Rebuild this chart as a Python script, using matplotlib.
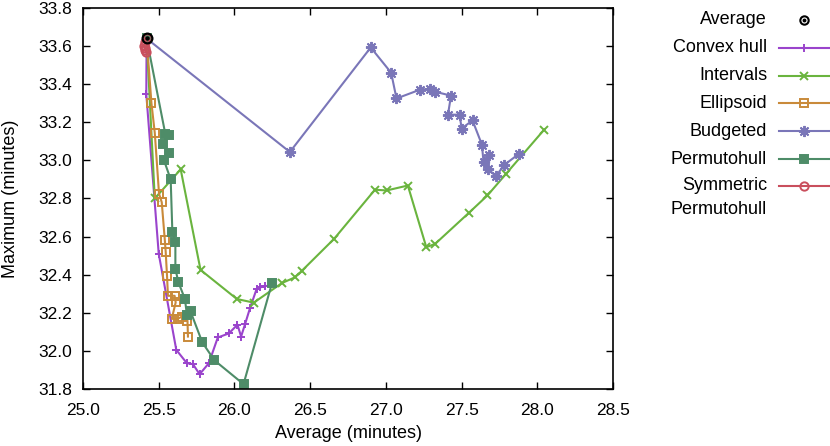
#!/usr/bin/env python3
import matplotlib
matplotlib.use("Agg")
import matplotlib.pyplot as plt
from matplotlib.lines import Line2D

plt.rcParams["font.family"] = ["Liberation Sans", "DejaVu Sans"]

# values (minutes)
average_x = [25.42]
average_y = [33.64]

hull_x = [25.42, 25.418, 25.50, 25.616, 25.686, 25.726, 25.77, 25.831, 25.89,
          25.962, 26.02, 26.044, 26.07, 26.103, 26.147, 26.171, 26.204]
hull_y = [33.64, 33.347, 32.51, 32.005, 31.935, 31.93, 31.877, 31.935, 32.07,
          32.091, 32.137, 32.075, 32.14, 32.225, 32.326, 32.333, 32.342]

intervals_x = [25.42, 25.474, 25.645, 25.776, 26.016, 26.128, 26.314, 26.40,
               26.445, 26.658, 26.928, 27.005, 27.145, 27.267, 27.326, 27.546,
               27.671, 27.794, 28.046]
intervals_y = [33.64, 32.80, 32.953, 32.425, 32.272, 32.253, 32.356, 32.386,
               32.42, 32.588, 32.846, 32.842, 32.868, 32.544, 32.562, 32.723,
               32.816, 32.93, 33.162]

ellipsoid_x = [25.42, 25.452, 25.474, 25.502, 25.52, 25.54, 25.546, 25.555,
               25.561, 25.605, 25.612, 25.586, 25.625, 25.651, 25.69, 25.693]
ellipsoid_y = [33.64, 33.30, 33.144, 32.825, 32.78, 32.584, 32.521, 32.391,
               32.289, 32.289, 32.254, 32.168, 32.168, 32.179, 32.158, 32.075]

budgeted_x = [25.42, 26.366, 26.90, 27.035, 27.07, 27.228, 27.294, 27.327,
              27.43, 27.41, 27.487, 27.50, 27.572, 27.634, 27.645, 27.68,
              27.673, 27.726, 27.783, 27.88]
budgeted_y = [33.64, 33.044, 33.593, 33.46, 33.325, 33.372, 33.375, 33.36,
              33.34, 33.24, 33.24, 33.167, 33.21, 33.083, 32.99, 33.026,
              32.956, 32.917, 32.977, 33.035]

permuto_x = [25.42, 25.544, 25.566, 25.528, 25.568, 25.535, 25.579, 25.59,
             25.61, 25.61, 25.63, 25.673, 25.686, 25.71, 25.788, 25.868,
             26.06, 26.248]
permuto_y = [33.64, 33.137, 33.132, 33.088, 33.038, 33.0, 32.90, 32.626,
             32.574, 32.43, 32.36, 32.272, 32.19, 32.207, 32.044, 31.95,
             31.825, 32.356]

sym_x = [25.42, 25.41, 25.405, 25.41, 25.41, 25.415]
sym_y = [33.64, 33.62, 33.60, 33.59, 33.58, 33.57]

x_ticks = [25.0, 25.5, 26.0, 26.5, 27.0, 27.5, 28.0, 28.5]
y_ticks = [31.8, 32.0, 32.2, 32.4, 32.6, 32.8, 33.0, 33.2, 33.4, 33.6, 33.8]

asterisk = (8, 2, 0)
# label, x, y, colour, marker, face, marker size
series = [
    ("Convex hull", hull_x, hull_y, "#9a44cc", "+", "#9a44cc", 6),
    ("Intervals", intervals_x, intervals_y, "#6ab43e", "x", "#6ab43e", 6),
    ("Ellipsoid", ellipsoid_x, ellipsoid_y, "#c98a3a", "s", "none", 6),
    ("Budgeted", budgeted_x, budgeted_y, "#7a76b8", asterisk, "#7a76b8", 8),
    ("Permutohull", permuto_x, permuto_y, "#4e8c68", "s", "#4e8c68", 6),
    ("Symmetric\nPermutohull", sym_x, sym_y, "#c94f5d", "o", "none", 6),
]


def main() -> None:
    fig = plt.figure(figsize=(8.30, 4.46), dpi=100)
    ax = fig.add_axes([0.100, 0.128, 0.6386, 0.854])

    for label, xs, ys, color, marker, face, size in series:
        ax.plot(xs, ys, color=color, lw=1.5, marker=marker, ms=size,
                mfc=face, mec=color, mew=1.4, clip_on=False)

    ax.plot(average_x, average_y, ls="none", marker="o", ms=7,
            mfc="none", mec="black", mew=1.6, zorder=5)
    ax.plot(average_x, average_y, ls="none", marker="o", ms=2.2,
            mfc="black", mec="black", zorder=5)

    ax.set_xlim(25.0, 28.5)
    ax.set_ylim(31.8, 33.8)
    ax.set_xticks(x_ticks)
    ax.set_yticks(y_ticks)
    ax.set_xticklabels([f"{v:.1f}" for v in x_ticks])
    ax.set_yticklabels([f"{v:.1f}" for v in y_ticks])
    ax.tick_params(direction="in", length=5, width=1, top=True, right=True,
                   labelsize=12.5)
    ax.tick_params(axis="x", pad=10)
    ax.tick_params(axis="y", pad=8)
    for side in ax.spines.values():
        side.set_linewidth(1.2)
    ax.set_xlabel("Average (minutes)", fontsize=13, labelpad=5)
    ax.set_ylabel("Maximum (minutes)", fontsize=13, labelpad=14)

    # gnuplot-style key: right-aligned text, sample to its right
    W, H = 830.0, 446.0
    text_x = 767 / W
    line_x0, line_x1, mark_x = 779 / W, 830 / W, 804 / W
    rows = [20, 48, 76, 103, 131, 159, 186]

    fig.text(text_x, 1 - rows[0] / H, "Average", ha="right", va="center",
             fontsize=13)
    fig.add_artist(Line2D([mark_x], [1 - rows[0] / H], ls="none", marker="o",
                          ms=6, mfc="none", mec="black", mew=1.5,
                          transform=fig.transFigure))
    fig.add_artist(Line2D([mark_x], [1 - rows[0] / H], ls="none", marker="o",
                          ms=1.8, mfc="black", mec="black",
                          transform=fig.transFigure))

    for (label, xs, ys, color, marker, face, size), py in zip(series, rows[1:]):
        y = 1 - py / H
        if "\n" in label:
            first, second = label.split("\n")
            fig.text(text_x, y, first, ha="right", va="center", fontsize=13)
            fig.text(text_x, 1 - (py + 23) / H, second, ha="right",
                     va="center", fontsize=13)
        else:
            fig.text(text_x, y, label, ha="right", va="center", fontsize=13)
        fig.add_artist(Line2D([line_x0, line_x1], [y, y], color=color, lw=1.5,
                              transform=fig.transFigure))
        fig.add_artist(Line2D([mark_x], [y], ls="none", marker=marker, ms=size,
                              mfc=face, mec=color, mew=1.4,
                              transform=fig.transFigure))

    fig.savefig("out.png", dpi=100)
    plt.close(fig)


if __name__ == "__main__":
    main()
